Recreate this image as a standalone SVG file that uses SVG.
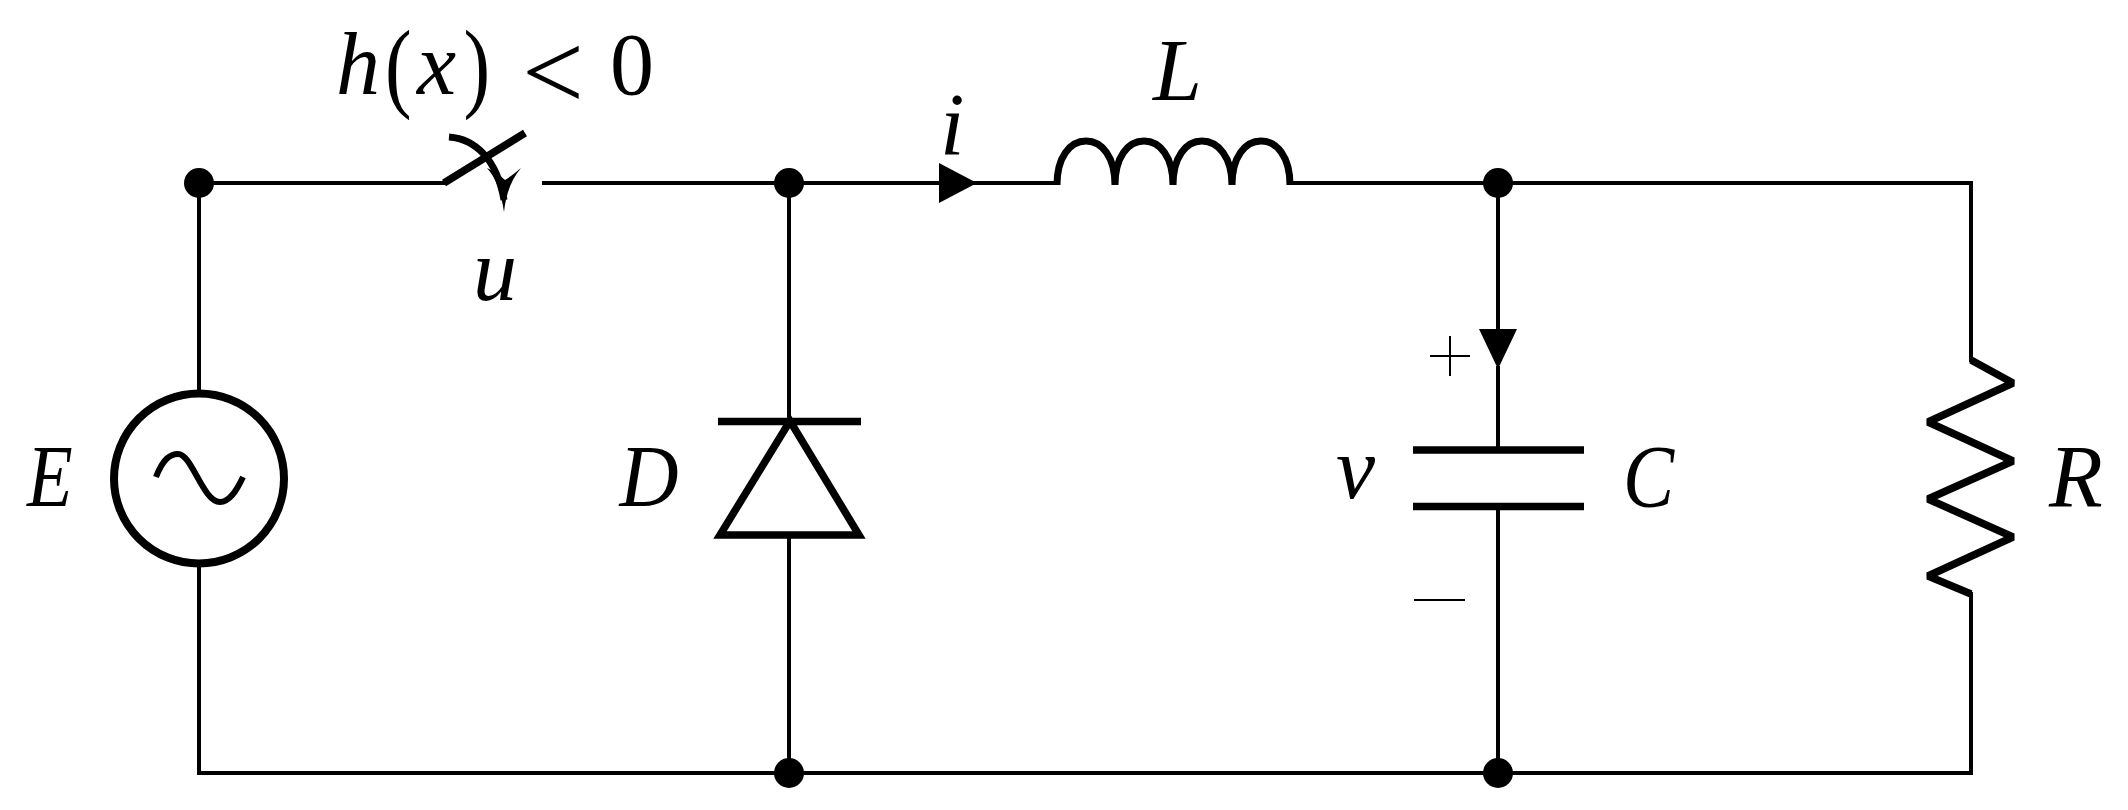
<svg xmlns="http://www.w3.org/2000/svg" width="2128" height="810" viewBox="0 0 2128 810">
<style>
.w{fill:none;stroke:#000;stroke-width:4;stroke-linecap:square}
.s{fill:none;stroke:#000;stroke-width:7.500}
.d{fill:#000}
.t{font-family:"Liberation Serif","Times New Roman",serif;font-size:88px;fill:#000}
.i{font-style:italic}
</style>
<rect width="2128" height="810" fill="#fff"/>
<g id="connectors">
<path class="w" d="M199 183H446M544 183H1057M1290 183H1971V360M1971 594V773H199V183M789 183V421M789 535V773M1498 183V329M1498 368V446M1498 510V773"/>
</g>
<g id="source-E">
<circle cx="199" cy="478.500" r="85" fill="#fff" stroke="#000" stroke-width="8"/>
<path d="M156 477C163 459 170 454 178 454C192 454 203 502 220 502C229 502 236 492 243 477" fill="none" stroke="#000" stroke-width="6"/>
<text class="t i" transform="translate(27 506) scale(.85 1)">E</text>
</g>
<g id="switch-u">
<path class="s" stroke-width="7" d="M444 183L525 133"/>
<path d="M449 137C476 139 497 160 504 200" fill="none" stroke="#000" stroke-width="7"/>
<path class="d" d="M504 212C501 192 496 178 487 168C494 171 500 175 505 180C510 177 516 172 521 168C511 180 506 194 504 212Z"/>
<g class="t">
<text class="i" x="336" y="94">h</text>
<text transform="translate(385 99) scale(.8 1)" font-size="100">(</text>
<text class="i" x="417" y="94">x</text>
<text transform="translate(463.500 99) scale(.8 1)" font-size="100">)</text>
<text x="522" y="109" font-size="110">&lt;</text>
<text x="610" y="94">0</text>
<text class="i" x="473" y="300">u</text>
</g>
</g>
<g id="diode-D">
<path class="s" d="M718 421.500H861"/>
<path class="s" d="M790 421L859 535H720Z"/>
<text class="t i" transform="translate(619.500 506) scale(.93 1)">D</text>
</g>
<g id="inductor-L">
<path fill="none" stroke="#000" stroke-width="7" d="M1057 185C1057 157 1070 141 1086 141C1102 141 1115 157 1115 185C1115 157 1128 141 1144 141C1160 141 1173 157 1173 185C1173 157 1186 141 1202 141C1218 141 1232 157 1232 185C1232 157 1245 141 1261 141C1277 141 1290 157 1290 185"/>
<text class="t i" x="1153" y="100">L</text>
</g>
<g id="current-i">
<path class="d" d="M939 163L977 183L939 203Z"/>
<text class="t i" x="940" y="154">i</text>
</g>
<g id="capacitor-C">
<path class="s" stroke-width="8" d="M1413 450H1584M1413 506.500H1584"/>
<path class="d" d="M1479 329H1517L1498 369Z"/>
<path fill="none" stroke="#000" stroke-width="2" d="M1430 356H1470M1450 336V376M1414 600H1465"/>
<text class="t i" x="1336" y="498">v</text>
<text class="t i" transform="translate(1623 506) scale(.87 1)">C</text>
</g>
<g id="resistor-R">
<path class="s" stroke-width="8.500" stroke-linejoin="bevel" d="M1971 360L2013 383L1928 422L2013 461L1928 499L2013 537L1928 576L1971 594"/>
<text class="t i" x="2049" y="506">R</text>
</g>
<g id="junctions">
<circle class="d" cx="199" cy="183" r="15"/>
<circle class="d" cx="789" cy="183" r="15"/>
<circle class="d" cx="1498" cy="183" r="15"/>
<circle class="d" cx="789" cy="773" r="15"/>
<circle class="d" cx="1498" cy="773" r="15"/>
</g>
</svg>
